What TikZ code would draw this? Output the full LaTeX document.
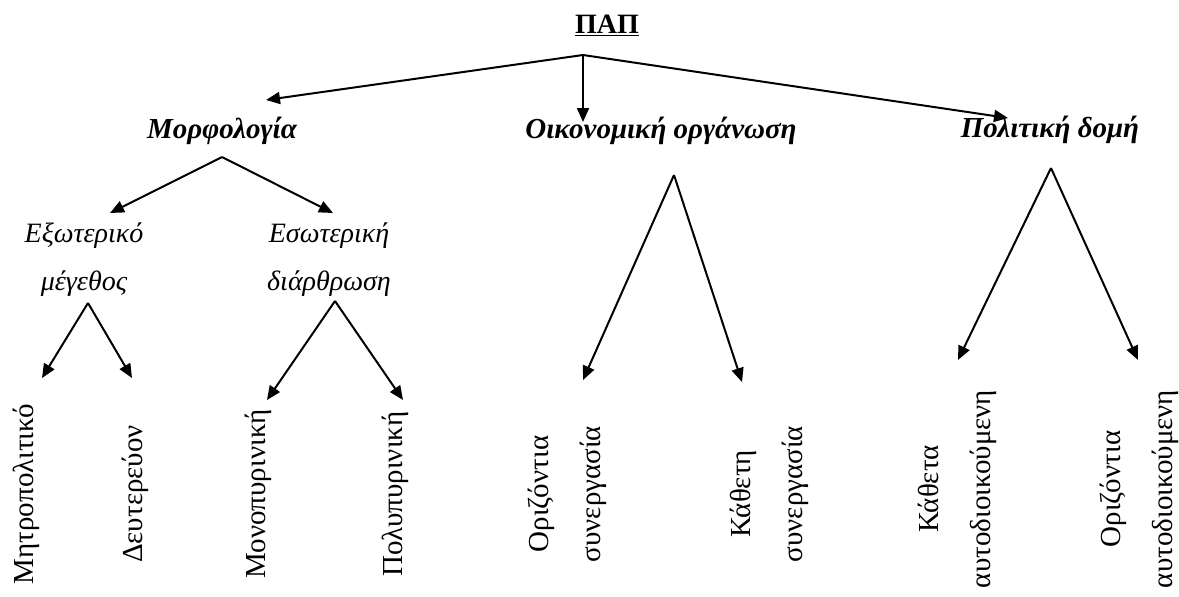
\documentclass[tikz,border=0pt]{standalone}
\usepackage{fontspec}
\setmainfont{Liberation Serif}
\usetikzlibrary{arrows.meta}
\begin{document}
\begin{tikzpicture}[x=0.5pt,y=-0.5pt,line width=1pt,>={Triangle[length=7pt,width=6pt]},
    top node/.style={font=\fontsize{14}{17}\selectfont\bfseries,anchor=base},
    branch node/.style={font=\fontsize{14.5}{17}\selectfont\bfseries\itshape,anchor=base},
    sub node/.style={font=\fontsize{14}{24}\selectfont\itshape,anchor=base,align=center},
    leaf node/.style={font=\fontsize{14.5}{26}\selectfont,anchor=base,align=center,rotate=90}]
    \useasboundingbox (0,0) rectangle (1179,596);

    \node[top node] at (607,33) (pap) {\underline{ΠΑΠ}};
    \node[branch node] at (222,138) (morf) {Μορφολογία};
    \node[branch node] at (661,138) (oik) {Οικονομική οργάνωση};
    \node[branch node] at (1050,137) (pol) {Πολιτική δομή};

    % base = last line
    \node[sub node] at (84,290) (ext) {Εξωτερικό\\μέγεθος};
    \node[sub node] at (329,290) (esw) {Εσωτερική\\διάρθρωση};

    \node[leaf node] at (33,494) (mitr) {Μητροπολιτικό};
    \node[leaf node] at (142,494) (deut) {Δευτερεύον};
    \node[leaf node] at (265,494) (mono) {Μονοπυρινική};
    \node[leaf node] at (402,494) (poly) {Πολυπυρινική};
    \node[leaf node] at (600,494) (oriz) {Οριζόντια\\συνεργασία};
    \node[leaf node] at (802,494) (kath) {Κάθετη\\συνεργασία};
    \node[leaf node] at (990,489) (kaua) {Κάθετα\\αυτοδιοικούμενη};
    \node[leaf node] at (1172,489) (oria) {Οριζόντια\\αυτοδιοικούμενη};

    % forks and arrow ends
    \coordinate (pap-fork) at (583,55);
    \coordinate (morf-in) at (266,100);
    \coordinate (oik-in) at (583,122);
    \coordinate (pol-in) at (1008,118);
    \coordinate (morf-fork) at (222,157);
    \coordinate (ext-in) at (110,213);
    \coordinate (esw-in) at (333,213);
    \coordinate (ext-fork) at (88,303);
    \coordinate (mitr-in) at (42,378);
    \coordinate (deut-in) at (132,378);
    \coordinate (esw-fork) at (335,301);
    \coordinate (mono-in) at (267,400);
    \coordinate (poly-in) at (403,400);
    \coordinate (oik-fork) at (674,175);
    \coordinate (oriz-in) at (583,380);
    \coordinate (kath-in) at (742,382);
    \coordinate (pol-fork) at (1051,168);
    \coordinate (kaua-in) at (958,360);
    \coordinate (oria-in) at (1138,360);

    \path[->]
        (pap-fork) edge (morf-in)
        (pap-fork) edge (oik-in)
        (pap-fork) edge (pol-in)
        (morf-fork) edge (ext-in)
        (morf-fork) edge (esw-in)
        (ext-fork) edge (mitr-in)
        (ext-fork) edge (deut-in)
        (esw-fork) edge (mono-in)
        (esw-fork) edge (poly-in)
        (oik-fork) edge (oriz-in)
        (oik-fork) edge (kath-in)
        (pol-fork) edge (kaua-in)
        (pol-fork) edge (oria-in)
        ;
\end{tikzpicture}
\end{document}
